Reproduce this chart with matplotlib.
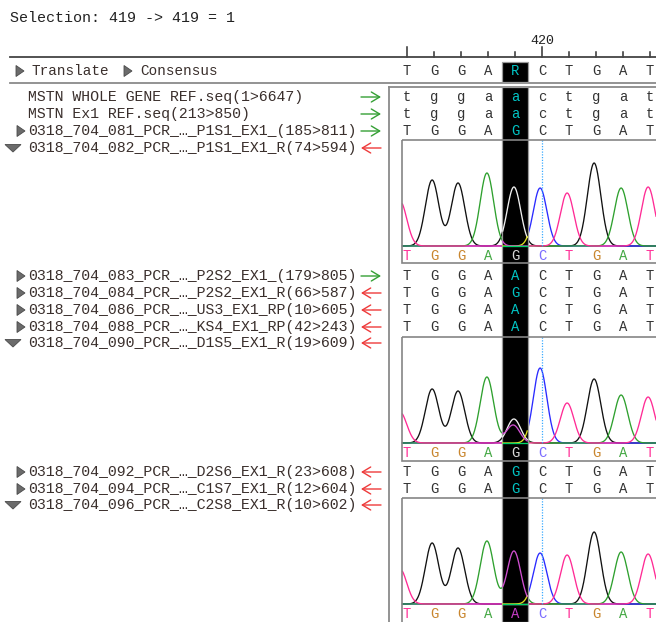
import numpy as np
import matplotlib.pyplot as plt
from matplotlib.patches import Rectangle, Polygon

# ---- data ----
selection_text = "Selection: 419 -> 419 = 1"
positions = [415, 416, 417, 418, 419, 420, 421, 422, 423, 424]
selected_pos = 419
consensus = "TGGARCTGAT"

# name, expander ('none' / 'right' / 'down'), direction, bases
read_names = [
    "MSTN WHOLE GENE REF.seq(1>6647)",
    "MSTN Ex1 REF.seq(213>850)",
    "0318_704_081_PCR_\u2026_P1S1_EX1_(185>811)",
    "0318_704_082_PCR_\u2026_P1S1_EX1_R(74>594)",
    "0318_704_083_PCR_\u2026_P2S2_EX1_(179>805)",
    "0318_704_084_PCR_\u2026_P2S2_EX1_R(66>587)",
    "0318_704_086_PCR_\u2026_US3_EX1_RP(10>605)",
    "0318_704_088_PCR_\u2026_KS4_EX1_RP(42>243)",
    "0318_704_090_PCR_\u2026_D1S5_EX1_R(19>609)",
    "0318_704_092_PCR_\u2026_D2S6_EX1_R(23>608)",
    "0318_704_094_PCR_\u2026_C1S7_EX1_R(12>604)",
    "0318_704_096_PCR_\u2026_C2S8_EX1_R(10>602)",
]
read_expander = ['none', 'none', 'right', 'down', 'right', 'right',
                 'right', 'right', 'down', 'right', 'right', 'down']
read_forward = [True, True, True, False, True, False,
                False, False, False, False, False, False]
read_bases = ["tggaactgat", "tggaactgat", "TGGAGCTGAT", "TGGAGCTGAT",
              "TGGAACTGAT", "TGGAGCTGAT", "TGGAACTGAT", "TGGAACTGAT",
              "TGGAGCTGAT", "TGGAGCTGAT", "TGGAGCTGAT", "TGGAACTGAT"]

# chromatogram peaks (base, position, height) for the three expanded reads
trace_peak_pos = [414.74, 415.93, 416.89, 417.96, 418.96, 419.93,
                  420.93, 421.93, 422.93, 423.93]
trace1_bases = "TGGAGCTGAT"
trace1_heights = [45, 66, 63, 73, 59, 58, 53, 83, 58, 59]
trace2_bases = "TGGAGCTGAT"
trace2_heights = [31, 54, 52, 66, 24, 75, 40, 64, 48, 46]
trace2_extra = [("A", 418.93, 18)]
trace3_bases = "TGGAACTGAT"
trace3_heights = [35, 61, 56, 63, 53, 51, 49, 72, 52, 50]
trace3_extra = []

# ---- layout (pixels) ----
W, H = 656, 622
X0, DX = 407, 27.0          # pixel x of first column, column width
row_y = [97, 114, 131, 148, 276, 293, 310, 327, 343, 472, 489, 505]
boxes = {3: (140, 246, 256, 263), 8: (337, 443, 453, 461), 11: (498, 604, 614, 623)}

def col_x(pos):
    return X0 + DX * (pos - positions[0])

base_color = {'A': '#2ea02e', 'C': '#2a2aff', 'G': '#111111', 'T': '#ff2b95'}
inv_color = {'A': '#d04fd0', 'C': '#e0e020', 'G': '#f0f0f0', 'T': '#00d46a'}
call_color = {'A': '#44a844', 'C': '#7b6cff', 'G': '#c9862e', 'T': '#ff3399'}
call_inv = {'A': '#c43cc4', 'C': '#e0e020', 'G': '#d8d8d8', 'T': '#00cc66'}
txt = '#3a2f2c'
mono = 'Liberation Mono'

fig = plt.figure(figsize=(W / 100, H / 100), dpi=100)
ax = fig.add_axes([0, 0, 1, 1])
ax.set_xlim(0, W)
ax.set_ylim(H, 0)
ax.axis('off')

ax.text(10, 18, selection_text, family=mono, fontsize=10.8, color='#222222',
        va='center', ha='left')

# ruler
for p in positions:
    x = col_x(p)
    top = 47 if p % 5 == 0 else 52
    ax.plot([x, x], [top, 57], color='#303030', lw=1.1)
    if p % 10 == 0:
        ax.text(x, 41, str(p), family=mono, fontsize=9.6, color='#222222',
                ha='center', va='center')
ax.plot([10, W], [57, 57], color='#444444', lw=1.3)
ax.plot([10, W], [82.5, 82.5], color='#8a8a8a', lw=1.3)
ax.plot([389, W], [86.5, 86.5], color='#8a8a8a', lw=1.3)
ax.plot([389, 389], [86.5, H], color='#8a8a8a', lw=1.3)

# selection column
sx0 = col_x(selected_pos) - 13
ax.add_patch(Rectangle((sx0, 62), 26, 20, facecolor='black', edgecolor='#9a9a9a',
                       lw=0.9, zorder=2))
ax.add_patch(Rectangle((sx0, 87), 26, H - 87, facecolor='black', edgecolor='#9a9a9a',
                       lw=0.9, zorder=2))

def tri_right(x, y, zorder=3):
    ax.add_patch(Polygon([[x, y - 5.5], [x, y + 5.5], [x + 8, y]], closed=True,
                         facecolor='#6b6b6b', edgecolor='#4a4a4a', lw=0.6, zorder=zorder))

def tri_down(x, y):
    ax.add_patch(Polygon([[x, y - 3.5], [x + 16, y - 3.5], [x + 8, y + 4]], closed=True,
                         facecolor='#6b6b6b', edgecolor='#4a4a4a', lw=0.6, zorder=3))

# header row
tri_right(16, 71)
ax.text(31, 71, "Translate", family=mono, fontsize=10.4, color=txt, va='center')
tri_right(124, 71)
ax.text(140, 71, "Consensus", family=mono, fontsize=10.4, color=txt, va='center')
for p, b in zip(positions, consensus):
    sel = p == selected_pos
    ax.text(col_x(p), 71, b, family=mono, fontsize=10, ha='center', va='center',
            color='#00c4c4' if sel else '#333333', zorder=4)

def draw_trace(top, base_y, bases, heights, extra):
    xs = np.linspace(402.5, W, 800)
    sig = 0.25
    peaks = [(b, p, h) for b, p, h in zip(bases, trace_peak_pos, heights)] + extra
    curves = {}
    for ch in "GCAT":
        y = np.zeros_like(xs)
        for b, p, h in peaks:
            if b == ch:
                y += h * np.exp(-((xs - col_x(p)) / (sig * DX)) ** 2 / 2)
        curves[ch] = y
    inside = (xs >= sx0 + 0.5) & (xs <= sx0 + 25.5)
    for ch in "GCAT":
        ax.plot(xs, base_y - curves[ch], color=base_color[ch], lw=0.95, zorder=1)
        ax.plot(xs[inside], base_y - curves[ch][inside], color=inv_color[ch],
                lw=0.95, zorder=3)
    ax.plot([col_x(420), col_x(420)], [top, base_y], color='#3aaaff', lw=0.9,
            ls=(0, (1, 1.2)), zorder=1.5)

traces = {3: (trace1_bases, trace1_heights, []),
          8: (trace2_bases, trace2_heights, trace2_extra),
          11: (trace3_bases, trace3_heights, trace3_extra)}

for i, name in enumerate(read_names):
    y = row_y[i]
    if read_expander[i] == 'right':
        tri_right(17, y)
    elif read_expander[i] == 'down':
        tri_down(5, y)
    ax.text(28, y, name, family=mono, fontsize=10.7, color=txt, va='center', ha='left')
    if read_forward[i]:
        ax.annotate('', xy=(381, y), xytext=(361, y),
                    arrowprops=dict(arrowstyle='->,head_length=0.5,head_width=0.3',
                                    color='#35a035', lw=1.0,
                                    shrinkA=0, shrinkB=0, mutation_scale=12))
    else:
        ax.annotate('', xy=(361, y), xytext=(381, y),
                    arrowprops=dict(arrowstyle='->,head_length=0.5,head_width=0.3',
                                    color='#ee3b3b', lw=1.0,
                                    shrinkA=0, shrinkB=0, mutation_scale=12))
    if i in boxes:
        top, base_y, call_y, bottom = boxes[i]
        ax.add_patch(Rectangle((402, top), W, bottom - top, facecolor='none',
                               edgecolor='#858585', lw=1.2, zorder=4))
        tb, th, te = traces[i]
        draw_trace(top, base_y, tb, th, te)
        for p, b in zip(positions, read_bases[i]):
            sel = p == selected_pos
            ax.text(col_x(p), call_y, b, family=mono, fontsize=10, ha='center',
                    va='center', color=call_inv[b] if sel else call_color[b], zorder=4)
    else:
        for p, b in zip(positions, read_bases[i]):
            sel = p == selected_pos
            ax.text(col_x(p), y, b, family=mono, fontsize=10, ha='center', va='center',
                    color='#00c4c4' if sel else '#333333', zorder=4)

fig.savefig('out.png', dpi=100)
